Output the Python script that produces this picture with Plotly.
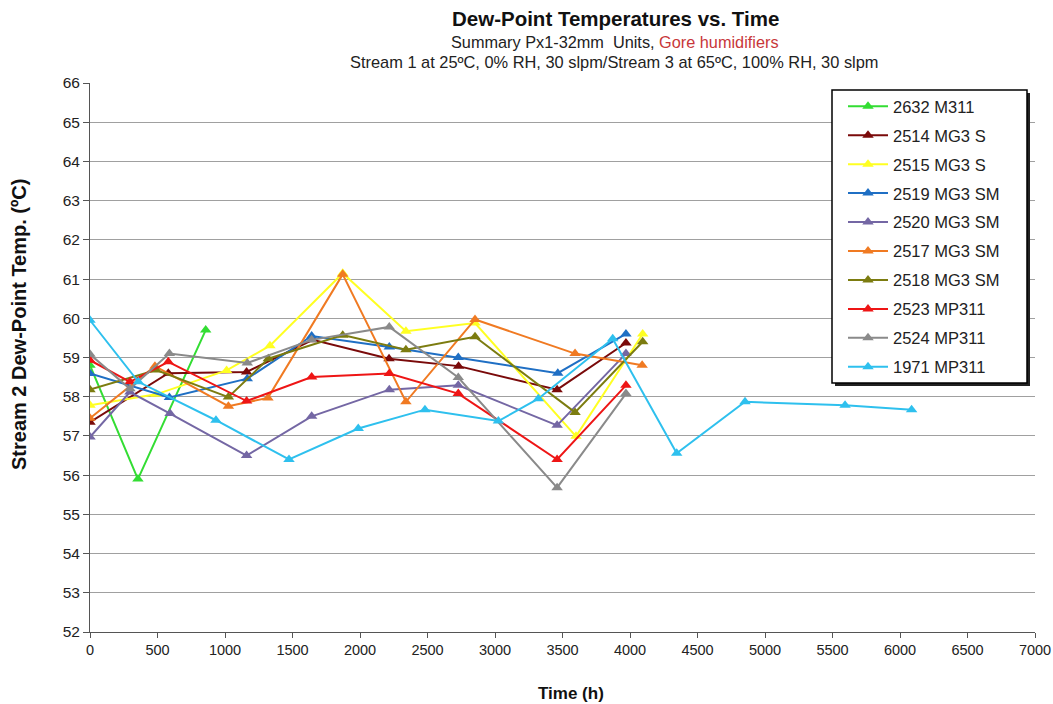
import plotly.graph_objects as go

# ---- data ----
names = ["2632 M311", "2514 MG3 S", "2515 MG3 S", "2519 MG3 SM", "2520 MG3 SM",
         "2517 MG3 SM", "2518 MG3 SM", "2523 MP311", "2524 MP311", "1971 MP311"]

t_2632 = [0, 355, 857]
y_2632 = [58.8, 55.9, 59.7]

t_2514 = [0, 580, 1160, 1650, 2215, 2730, 3460, 3970]
y_2514 = [57.35, 58.6, 58.63, 59.45, 58.97, 58.78, 58.18, 59.37]

t_2515 = [0, 490, 1012, 1333, 1872, 2340, 2852, 3600, 4094]
y_2515 = [57.78, 58.06, 58.67, 59.3, 61.15, 59.67, 59.88, 56.99, 59.6]

t_2519 = [0, 588, 1165, 1642, 2217, 2728, 3465, 3970]
y_2519 = [58.59, 57.98, 58.46, 59.55, 59.27, 59.0, 58.6, 59.6]

t_2520 = [0, 296, 593, 1160, 1642, 2217, 2728, 3460, 3970]
y_2520 = [56.97, 58.12, 57.57, 56.5, 57.5, 58.18, 58.29, 57.27, 59.1]

t_2517 = [0, 481, 1025, 1318, 1872, 2340, 2852, 3593, 4090]
y_2517 = [57.45, 58.78, 57.76, 57.97, 61.12, 57.87, 59.97, 59.1, 58.8]

t_2518 = [0, 490, 1025, 1321, 1872, 2340, 2852, 3593, 4094]
y_2518 = [58.18, 58.68, 57.99, 58.97, 59.57, 59.2, 59.53, 57.6, 59.4]

t_2523 = [0, 296, 580, 1160, 1642, 2217, 2728, 3460, 3970]
y_2523 = [58.93, 58.38, 58.89, 57.89, 58.5, 58.59, 58.08, 56.4, 58.29]

t_2524 = [0, 296, 588, 1165, 1642, 2217, 2728, 3460, 3970]
y_2524 = [59.08, 58.2, 59.1, 58.86, 59.45, 59.78, 58.49, 55.68, 58.08]

t_1971 = [0, 358, 933, 1474, 1987, 2481, 3025, 3321, 3872, 4346, 4852, 5593, 6086]
y_1971 = [59.95, 58.38, 57.4, 56.4, 57.19, 57.67, 57.38, 57.95, 59.48, 56.56, 57.87, 57.78, 57.67]

xs = [t_2632, t_2514, t_2515, t_2519, t_2520, t_2517, t_2518, t_2523, t_2524, t_1971]
ys = [y_2632, y_2514, y_2515, y_2519, y_2520, y_2517, y_2518, y_2523, y_2524, y_1971]
colors = ["#33dd33", "#7a0a0a", "#ffff22", "#1f6fc4", "#7467a4",
          "#f07a22", "#7c7c10", "#ee1515", "#8a8a8a", "#2ec0ee"]

fig = go.Figure()
for i, (n, x, y, c) in enumerate(zip(names, xs, ys, colors)):
    fig.add_trace(go.Scatter(
        x=x, y=y, name=n, mode="lines+markers",
        line=dict(color=c, width=2),
        marker=dict(symbol="triangle-up", size=10, color=c),
        legendgroup=f"g{i}",
    ))

PL, PR, PT, PB = 90, 1035, 83, 632
W, H = 1053, 704
pw, ph = PR - PL, PB - PT

def px(xp):
    return (xp - PL) / pw

def py(yp):
    return (PB - yp) / ph

font = "Liberation Sans, Arial, sans-serif"

def ann(text, x, y, size, color="#222222", angle=0):
    return dict(text=text, x=px(x), y=py(y), xref="paper", yref="paper",
                xanchor="center", yanchor="middle", showarrow=False,
                textangle=angle, font=dict(size=size, color=color))

fig.update_layout(
    width=W, height=H,
    margin=dict(l=PL, r=W - PR, t=PT, b=H - PB, autoexpand=False),
    paper_bgcolor="white", plot_bgcolor="white",
    font=dict(family=font, color="#222222", size=14),
    showlegend=True,
    legend=dict(
        x=px(843), y=py(89), xanchor="left", yanchor="top",
        borderwidth=0, bgcolor="rgba(0,0,0,0)",
        font=dict(size=16.5, color="#222222"),
        tracegroupgap=4.5, itemwidth=40,
    ),
    xaxis=dict(
        range=[0, 7000], tick0=0, dtick=500, showgrid=False,
        showline=True, linecolor="#555555", linewidth=1,
        ticks="outside", ticklen=5, tickcolor="#555555",
        tickfont=dict(size=14.5, color="#222222"), zeroline=False,
    ),
    yaxis=dict(
        range=[52, 66], tick0=52, dtick=1, showgrid=True, gridcolor="#a0a0a0", gridwidth=1,
        showline=True, linecolor="#555555", linewidth=1,
        ticks="outside", ticklen=6, tickcolor="#555555",
        tickfont=dict(size=15.5, color="#222222"), zeroline=False,
    ),
    annotations=[
        ann("<b>Dew-Point Temperatures vs. Time</b>", 615, 18, 20.5, "#111111"),
        ann("Summary Px1-32mm  Units, <span style='color:#c8373a'>Gore humidifiers</span>",
            615, 42, 16.3),
        ann("Stream 1 at 25ºC, 0% RH, 30 slpm/Stream 3 at 65ºC, 100% RH, 30 slpm",
            614, 62, 16.4),
        ann("<b>Stream 2 Dew-Point Temp. (ºC)</b>", 19, 325, 20, "#111111", -90),
        ann("<b>Time (h)</b>", 571, 693, 17, "#111111"),
    ],
    shapes=[
        dict(type="rect", xref="paper", yref="paper",
             x0=px(835), x1=px(1030), y0=py(386), y1=py(93),
             fillcolor="#222222", line=dict(width=0), layer="above"),
        dict(type="rect", xref="paper", yref="paper",
             x0=px(832), x1=px(1027), y0=py(383), y1=py(90),
             fillcolor="white", line=dict(color="#000000", width=1.5), layer="above"),
    ],
)

fig.write_html("out.html", config={"displayModeBar": False},
               post_script="document.body.style.margin='0px';")
